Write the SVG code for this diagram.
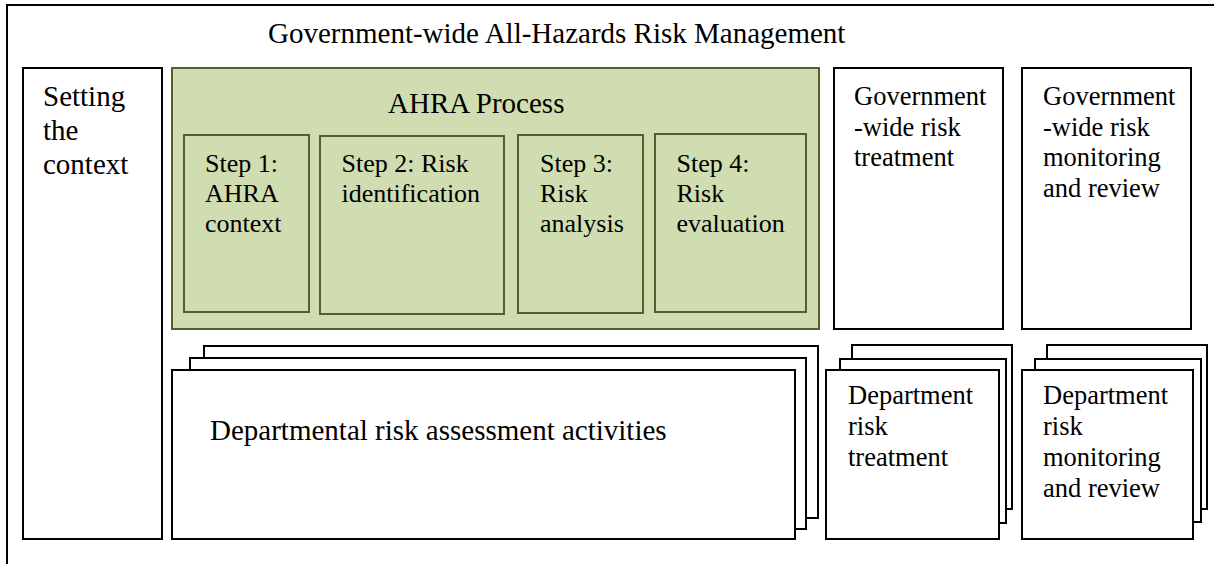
<svg xmlns="http://www.w3.org/2000/svg" width="1214" height="564" viewBox="0 0 1214 564" font-family="'Liberation Serif', 'Times New Roman', serif">
<style>
.box{fill:#ffffff;stroke:#000000;stroke-width:2}
.green{fill:#d0ddb1;stroke:#4f6228;stroke-width:2}
text{font-family:'Liberation Serif','Times New Roman',serif;fill:#000000}
.big{font-size:29px}
.mid{font-size:26.5px}
.step{font-size:26px}
</style>
<rect width="1214" height="564" fill="#ffffff"/>
<g id="frame">
<path d="M7,564 V5 H1214" fill="none" stroke="#000000" stroke-width="2"/>
<text class="big" x="268" y="43">Government-wide All-Hazards Risk Management</text>
</g>
<g id="setting-context">
<rect class="box" x="23" y="68" width="139" height="471"/>
<text class="big" x="43" y="106">Setting</text>
<text class="big" x="43" y="140">the</text>
<text class="big" x="43" y="174">context</text>
</g>
<g id="ahra-process">
<rect class="green" x="172" y="68" width="647" height="261"/>
<text class="big" x="388" y="113">AHRA Process</text>
</g>
<g id="step1">
<rect class="green" x="184" y="135" width="125" height="177"/>
<text class="step" x="205" y="171.5">Step 1:</text>
<text class="step" x="205" y="201.5">AHRA</text>
<text class="step" x="205" y="231.5">context</text>
</g>
<g id="step2">
<rect class="green" x="320" y="136" width="184" height="178"/>
<text class="step" x="341.5" y="171.5">Step 2: Risk</text>
<text class="step" x="341.5" y="201.5">identification</text>
</g>
<g id="step3">
<rect class="green" x="518" y="135" width="125" height="178"/>
<text class="step" x="540" y="171.5">Step 3:</text>
<text class="step" x="540" y="201.5">Risk</text>
<text class="step" x="540" y="231.5">analysis</text>
</g>
<g id="step4">
<rect class="green" x="655" y="134" width="151" height="178"/>
<text class="step" x="676.5" y="171.5">Step 4:</text>
<text class="step" x="676.5" y="201.5">Risk</text>
<text class="step" x="676.5" y="231.5">evaluation</text>
</g>
<g id="gov-treatment">
<rect class="box" x="834" y="68" width="169" height="261"/>
<text class="mid" x="854" y="105">Government</text>
<text class="mid" x="854" y="135.5">-wide risk</text>
<text class="mid" x="854" y="166">treatment</text>
</g>
<g id="gov-monitoring">
<rect class="box" x="1022" y="68" width="169" height="261"/>
<text class="mid" x="1043" y="105">Government</text>
<text class="mid" x="1043" y="135.5">-wide risk</text>
<text class="mid" x="1043" y="166">monitoring</text>
<text class="mid" x="1043" y="196.5">and review</text>
</g>
<g id="departmental-activities">
<rect class="box" x="204" y="346" width="614" height="172"/>
<rect class="box" x="190" y="358" width="616" height="171"/>
<rect class="box" x="172" y="370" width="623" height="169"/>
<text class="big" x="210" y="440">Departmental risk assessment activities</text>
</g>
<g id="dept-treatment">
<rect class="box" x="852" y="345" width="160" height="164"/>
<rect class="box" x="840" y="359" width="166" height="164"/>
<rect class="box" x="826" y="370" width="173" height="169"/>
<text class="mid" x="848" y="404">Department</text>
<text class="mid" x="848" y="435">risk</text>
<text class="mid" x="848" y="466">treatment</text>
</g>
<g id="dept-monitoring">
<rect class="box" x="1047" y="345" width="160" height="164"/>
<rect class="box" x="1035" y="359" width="166" height="163"/>
<rect class="box" x="1022" y="370" width="171" height="169"/>
<text class="mid" x="1043" y="404">Department</text>
<text class="mid" x="1043" y="435">risk</text>
<text class="mid" x="1043" y="466">monitoring</text>
<text class="mid" x="1043" y="497">and review</text>
</g>
<g id="connectors"/>
</svg>
